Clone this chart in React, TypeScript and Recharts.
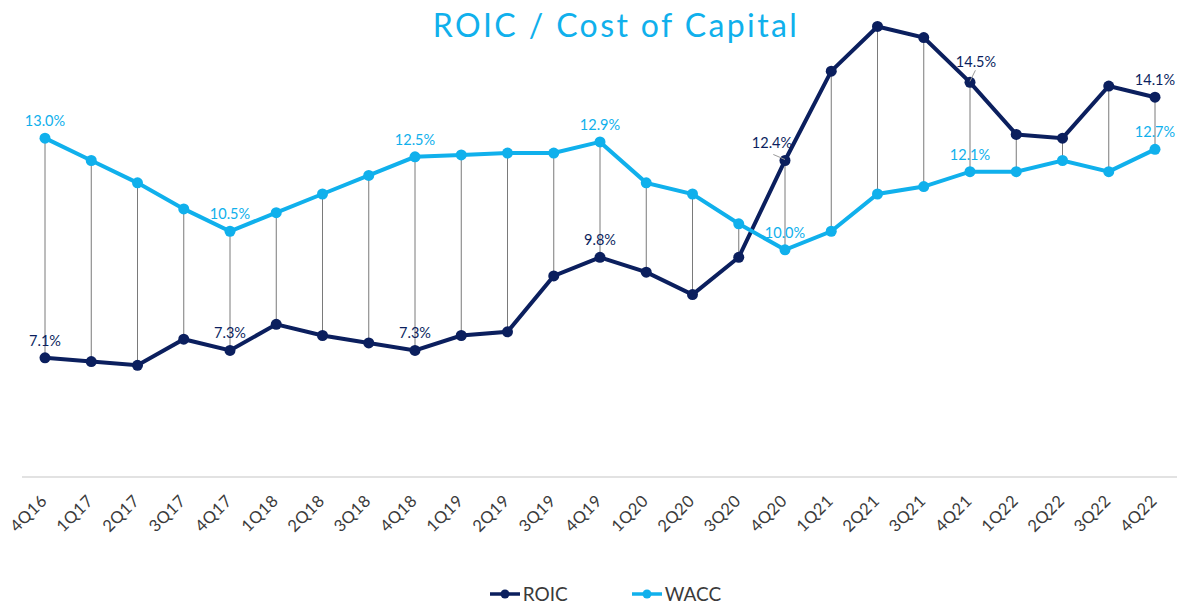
import { LineChart, Line, XAxis, YAxis, ErrorBar, LabelList, Legend } from 'recharts'

const quarters = [
  '4Q16', '1Q17', '2Q17', '3Q17', '4Q17', '1Q18', '2Q18', '3Q18', '4Q18', '1Q19', '2Q19', '3Q19',
  '4Q19', '1Q20', '2Q20', '3Q20', '4Q20', '1Q21', '2Q21', '3Q21', '4Q21', '1Q22', '2Q22', '3Q22', '4Q22',
]

const roic = [7.1, 7.0, 6.9, 7.6, 7.3, 8.0, 7.7, 7.5, 7.3, 7.7, 7.8, 9.3, 9.8, 9.4, 8.8, 9.8, 12.4, 14.8, 16.0, 15.7, 14.5, 13.1, 13.0, 14.4, 14.1]
const wacc = [13.0, 12.4, 11.8, 11.1, 10.5, 11.0, 11.5, 12.0, 12.5, 12.55, 12.6, 12.6, 12.9, 11.8, 11.5, 10.7, 10.0, 10.5, 11.5, 11.7, 12.1, 12.1, 12.4, 12.1, 12.7]

const NAVY = '#0b1f5e'
const SKY = '#10b0ec'

const data = quarters.map((q, i) => ({
  q,
  roic: roic[i],
  wacc: wacc[i],
  gap: wacc[i] > roic[i] ? [0, wacc[i] - roic[i]] : [roic[i] - wacc[i], 0],
}))

// label nudges for the crowded spots, with a little leader line
const nudges: Record<string, { dx: number; dy: number }> = {
  'roic-4Q20': { dx: -13, dy: 0 },
  'roic-4Q21': { dx: 6, dy: -3 },
}

const makeLabel = (key: string, color: string) => (props: any) => {
  const { x, y, index, value } = props
  const q = quarters[index]
  if (!q || !q.startsWith('4Q')) return null
  const n = nudges[`${key}-${q}`]
  const dx = n ? n.dx : 0
  const dy = n ? n.dy : 0
  return (
    <g>
      {n && <line x1={x + dx * 0.9} y1={y - 6 + dy * 2} x2={x} y2={y - 1} stroke="#999" strokeWidth={1} />}
      <text x={x + dx} y={y - 12 + dy} textAnchor="middle" fontSize={14.5} fill={color} fontFamily="Lato">
        {Number(value).toFixed(1)}%
      </text>
    </g>
  )
}

const Tick = (props: any) => {
  const { x, y, payload } = props
  const ax = x + 3
  const ay = y + 17
  return (
    <text x={ax} y={ay} textAnchor="end" fontSize={16.5} fill="#3a3a3a" fontFamily="Lato" letterSpacing={0.5} transform={`rotate(-45, ${ax}, ${ay})`}>
      {payload.value}
    </text>
  )
}

const LegendIcon = ({ color }: { color: string }) => (
  <svg width={30} height={12} style={{ marginRight: 3 }}>
    <line x1={0} y1={6} x2={30} y2={6} stroke={color} strokeWidth={3.5} />
    <circle cx={15} cy={6} r={4.5} fill={color} />
  </svg>
)

const renderLegend = () => (
  <div style={{ height: 35, display: 'flex', justifyContent: 'center', alignItems: 'center', paddingTop: 12, boxSizing: 'border-box', fontFamily: 'Lato', fontSize: 19, color: '#3a3a3a', paddingLeft: 12 }}>
    <span style={{ display: 'flex', alignItems: 'center', marginRight: 64 }}>
      <LegendIcon color={NAVY} />ROIC
    </span>
    <span style={{ display: 'flex', alignItems: 'center' }}>
      <LegendIcon color={SKY} />WACC
    </span>
  </div>
)

export default function App() {
  return (
    <div style={{ position: 'absolute', left: 0, top: 0, width: 1177, height: 605, background: '#fff' }}>
      <div style={{ position: 'absolute', left: 0, top: 3, width: 1232, textAlign: 'center', fontFamily: 'Lato', fontSize: 32, letterSpacing: 2.4, color: SKY, lineHeight: '44px' }}>
        ROIC / Cost of Capital
      </div>
      <LineChart width={1177} height={605} data={data} margin={{ top: 19, right: 0, bottom: 0, left: 22 }}>
        <XAxis
          dataKey="q"
          interval={0}
          tickLine={false}
          axisLine={{ stroke: '#d9d9d9', strokeWidth: 1.5 }}
          padding={{ left: 23, right: 22 }}
          height={93}
          tick={<Tick />}
        />
        <YAxis hide domain={[3.9, 16.2]} />
        <Line dataKey="roic" stroke="transparent" dot={false} activeDot={false} legendType="none" isAnimationActive={false}>
          <ErrorBar dataKey="gap" width={0} stroke="#7a7a7a" strokeWidth={1} direction="y" />
        </Line>
        <Line dataKey="roic" name="ROIC" stroke={NAVY} strokeWidth={4} dot={{ r: 5.5, fill: NAVY, stroke: NAVY, strokeWidth: 0 }} isAnimationActive={false}>
          <LabelList dataKey="roic" content={makeLabel('roic', NAVY)} />
        </Line>
        <Line dataKey="wacc" name="WACC" stroke={SKY} strokeWidth={4} dot={{ r: 5.5, fill: SKY, stroke: SKY, strokeWidth: 0 }} isAnimationActive={false}>
          <LabelList dataKey="wacc" content={makeLabel('wacc', SKY)} />
        </Line>
        <Legend verticalAlign="bottom" content={renderLegend} />
      </LineChart>
    </div>
  )
}
